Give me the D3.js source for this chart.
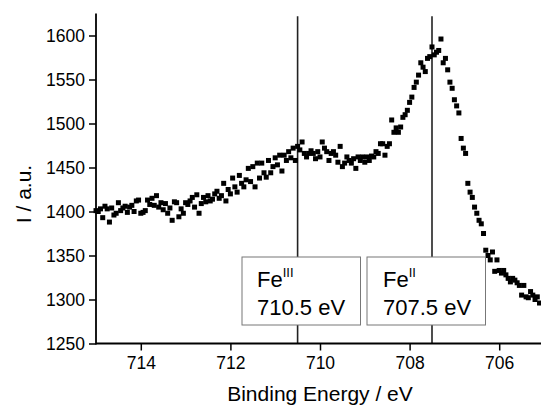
<!doctype html>
<html>
<head>
<meta charset="UTF-8">
<script src="https://d3js.org/d3.v7.min.js"></script>
<style>
  body { margin: 0; background: #fff; }
  text { font-family: "Liberation Sans", Arial, sans-serif; fill: #000; }
</style>
</head>
<body>
<svg id="chart" width="541" height="408"></svg>
<script>
// binding energy grid: 715.00 eV down to 705.10 eV in 0.05 eV steps
var eStart = 715, eStep = 0.05;

// intensity (a.u.), one value per step
var counts = [
  1401, 1400, 1403, 1393, 1406, 1403, 1388, 1404, 1396, 1398, 1410, 1401, 1404, 1406, 1399, 1405, 1407, 1400, 1412, 1413, 1398,
  1399, 1401, 1413, 1408, 1415, 1407, 1418, 1405, 1410, 1402, 1409, 1398, 1404, 1390, 1411, 1410, 1394, 1403, 1398, 1410,
  1408, 1412, 1416, 1405, 1419, 1398, 1409, 1416, 1411, 1418, 1412, 1414, 1420, 1423, 1415, 1418, 1432, 1412, 1425, 1420,
  1438, 1428, 1422, 1441, 1432, 1428, 1436, 1449, 1434, 1451, 1428, 1455, 1438, 1455, 1444, 1439, 1458, 1444, 1451, 1461,
  1453, 1464, 1446, 1464, 1458, 1468, 1461, 1472, 1458, 1474, 1470, 1479, 1466, 1462, 1466, 1469, 1466, 1460, 1468, 1462,
  1479, 1472, 1468, 1458, 1466, 1468, 1464, 1456, 1474, 1451, 1455, 1462, 1458, 1455, 1460, 1449, 1462, 1458, 1462, 1456,
  1462, 1458, 1463, 1462, 1468, 1466, 1477, 1477, 1464, 1474, 1477, 1504, 1490, 1495, 1490, 1496, 1507, 1510, 1515, 1524,
  1530, 1541, 1547, 1555, 1569, 1564, 1559, 1574, 1576, 1587, 1578, 1581, 1583, 1596, 1569, 1574, 1561, 1547, 1540, 1527,
  1520, 1512, 1483, 1472, 1466, 1432, 1422, 1416, 1405, 1398, 1390, 1386, 1375, 1356, 1350, 1345, 1354, 1332, 1345, 1333,
  1330, 1333, 1328, 1324, 1320, 1324, 1322, 1319, 1316, 1305, 1316, 1303, 1302, 1309, 1305, 1300, 1303, 1296
];

var peakPos = [710.5, 707.5];
var peakName = ["III", "II"];
var peakText = ["710.5 eV", "707.5 eV"];

var xTicks = [714, 712, 710, 708, 706];
var yTicks = [1250, 1300, 1350, 1400, 1450, 1500, 1550, 1600];

var svg = d3.select("#chart");

var x = d3.scaleLinear().domain([715, 705]).range([96, 544]);
var y = d3.scaleLinear().domain([1250, 1625]).range([343.5, 13.5]);

var data = counts.map(function(c, i) {
  return { e: eStart - i * eStep, c: c };
});

// peak marker lines
svg.selectAll("line.peak")
  .data(peakPos)
  .enter().append("line")
  .attr("class", "peak")
  .attr("x1", function(d) { return x(d); })
  .attr("x2", function(d) { return x(d); })
  .attr("y1", y(1622))
  .attr("y2", y(1250))
  .attr("stroke", "#222")
  .attr("stroke-width", 1.6);

// data squares
svg.append("g").selectAll("rect")
  .data(data)
  .enter().append("rect")
  .attr("x", function(d) { return x(d.e) - 2.5; })
  .attr("y", function(d) { return y(d.c) - 2.5; })
  .attr("width", 5)
  .attr("height", 5)
  .attr("fill", "#000");

// label boxes
var boxes = svg.selectAll("g.box")
  .data(peakPos)
  .enter().append("g")
  .attr("class", "box");

boxes.append("rect")
  .attr("x", function(d, i) { return i === 0 ? 242 : 367; })
  .attr("y", 257)
  .attr("width", 118.5)
  .attr("height", 68)
  .attr("fill", "#fff")
  .attr("stroke", "#777")
  .attr("stroke-width", 1);

var fe = boxes.append("text")
  .attr("x", function(d, i) { return i === 0 ? 257 : 383; })
  .attr("y", 287)
  .attr("font-size", 22);
fe.append("tspan").text("Fe");
fe.append("tspan")
  .attr("font-size", 13)
  .attr("dy", -10)
  .text(function(d, i) { return peakName[i]; });

boxes.append("text")
  .attr("x", function(d, i) { return i === 0 ? 257 : 383; })
  .attr("y", 315)
  .attr("font-size", 22)
  .text(function(d, i) { return peakText[i]; });

// axes
var xAxis = svg.append("g").attr("transform", "translate(0,343.5)");
xAxis.call(d3.axisBottom(x).tickValues([713, 711, 709, 707, 705]).tickSize(4).tickFormat(""));
xAxis.call(d3.axisBottom(x).tickValues(xTicks).tickSize(7).tickFormat(d3.format("d")));
xAxis.selectAll("path").remove();
xAxis.append("line")
  .attr("x1", 96).attr("x2", 541)
  .attr("stroke", "#000").attr("stroke-width", 1.8);
xAxis.selectAll("text")
  .attr("font-size", 17.5)
  .attr("font-family", "Liberation Sans, Arial, sans-serif")
  .attr("dy", 0)
  .attr("y", 25.5);

var yAxis = svg.append("g").attr("transform", "translate(96,0)");
yAxis.call(d3.axisLeft(y).tickValues([1275, 1325, 1375, 1425, 1475, 1525, 1575, 1625]).tickSize(4).tickFormat(""));
yAxis.call(d3.axisLeft(y).tickValues(yTicks).tickSize(7).tickFormat(d3.format("d")));
yAxis.selectAll("path").remove();
yAxis.append("line")
  .attr("y1", y(1625)).attr("y2", y(1250) + 1)
  .attr("stroke", "#000").attr("stroke-width", 1.8);
yAxis.selectAll("text")
  .attr("font-size", 17.5)
  .attr("font-family", "Liberation Sans, Arial, sans-serif")
  .attr("x", -11);
svg.selectAll(".tick line").attr("stroke", "#000").attr("stroke-width", 1.5);

// axis titles
svg.append("text")
  .attr("x", 320)
  .attr("y", 401)
  .attr("text-anchor", "middle")
  .attr("font-size", 21)
  .text("Binding Energy / eV");

svg.append("text")
  .attr("transform", "translate(31,194) rotate(-90)")
  .attr("text-anchor", "middle")
  .attr("font-size", 21)
  .text("I / a.u.");
</script>
</body>
</html>
